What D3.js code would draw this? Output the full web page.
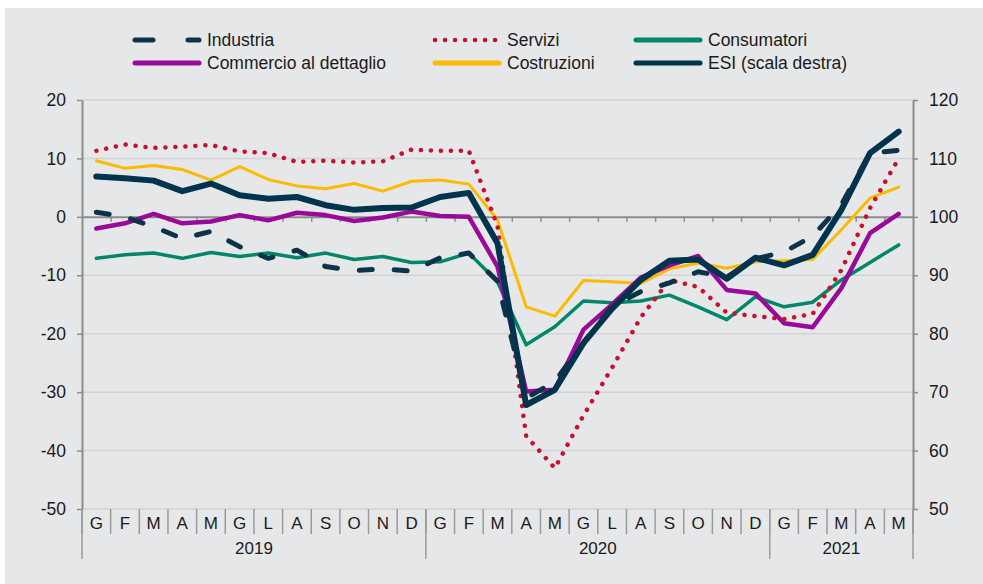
<!DOCTYPE html>
<html>
<head>
<meta charset="utf-8">
<title>Clima di fiducia</title>
<script src="https://cdn.jsdelivr.net/npm/d3@7/dist/d3.min.js"></script>
<style>
	body { margin: 0; background: #fff; }
	svg { display: block; font-family: "Liberation Sans", Arial, sans-serif; }
</style>
</head>
<body>
<div id="chart"></div>
<script>
	// dati (gen 2019 - mag 2021)
	const mesi = ["G","F","M","A","M","G","L","A","S","O","N","D",
		"G","F","M","A","M","G","L","A","S","O","N","D",
		"G","F","M","A","M"];
	const anni = ["2019", "2020", "2021"];
	const mesiPerAnno = [12, 12, 5];

	const industria = [0.8, 0.0, -1.7, -3.7, -2.5, -5.1, -7.1, -5.7, -8.5, -9.2, -8.9, -9.3,
		-7.0, -6.2, -11.0, -31.0, -28.2, -21.5, -15.3, -12.8, -11.3, -9.4, -10.3, -7.2,
		-6.0, -3.3, 2.1, 10.9, 11.4];
	const servizi = [11.3, 12.4, 11.8, 12.0, 12.3, 11.2, 10.9, 9.4, 9.6, 9.3, 9.5, 11.5,
		11.3, 11.3, -1.5, -37.5, -43.0, -34.0, -25.8, -17.2, -10.8, -12.0, -16.4, -17.0,
		-17.5, -16.6, -9.1, 1.5, 10.0];
	const consumatori = [-7.1, -6.5, -6.2, -7.1, -6.1, -6.8, -6.2, -7.0, -6.2, -7.3, -6.8, -7.8,
		-7.7, -6.2, -11.1, -21.9, -18.8, -14.4, -14.7, -14.4, -13.4, -15.4, -17.6, -13.7,
		-15.4, -14.6, -10.8, -7.8, -4.8];
	const commercio = [-2.0, -1.1, 0.5, -1.1, -0.8, 0.3, -0.6, 0.7, 0.3, -0.7, -0.1, 0.9,
		0.15, 0.0, -8.5, -29.9, -29.6, -19.3, -15.0, -10.4, -8.3, -6.7, -12.5, -13.1,
		-18.2, -18.9, -12.2, -2.8, 0.5];
	const costruzioni = [9.6, 8.3, 8.8, 8.1, 6.3, 8.6, 6.4, 5.3, 4.8, 5.7, 4.4, 6.1,
		6.3, 5.6, -0.5, -15.4, -17.0, -10.9, -11.1, -11.4, -8.9, -7.9, -8.8, -7.7,
		-7.5, -7.3, -2.2, 3.2, 5.1];
	const esi = [106.9, 106.6, 106.2, 104.4, 105.7, 103.7, 103.1, 103.4, 102.0, 101.2, 101.5, 101.6,
		103.4, 104.1, 95.5, 67.8, 70.4, 78.4, 84.3, 89.2, 92.5, 92.7, 89.4, 93.0,
		91.7, 93.5, 101.2, 110.9, 114.6];

	const ticksSx = [-50, -40, -30, -20, -10, 0, 10, 20];
	const ticksDx = [50, 60, 70, 80, 90, 100, 110, 120];

	const W = 983, H = 584;
	const mSx = 82, mDx = 913, mAlto = 100, mBasso = 509;
	const grigio = "#8c8c8c";

	const svg = d3.select("#chart").append("svg").attr("width", W).attr("height", H);
	svg.append("rect").attr("x", 5).attr("y", 8).attr("width", W - 5).attr("height", H - 8).attr("fill", "#e6e7e8");

	const x = d3.scaleBand().domain(d3.range(mesi.length)).range([mSx, mDx]);
	const xb = d3.scaleLinear().domain([0, mesi.length]).range([mSx, mDx]); // bordi dei mesi
	const yL = d3.scaleLinear().domain([-50, 20]).range([mBasso, mAlto]);
	const yR = d3.scaleLinear().domain([50, 120]).range([mBasso, mAlto]);
	const cx = i => x(i) + x.bandwidth() / 2;

	// griglia
	svg.append("g").selectAll("line").data(ticksSx.filter(d => d !== 0)).join("line")
		.attr("x1", mSx).attr("x2", mDx)
		.attr("y1", d => yL(d)).attr("y2", d => yL(d))
		.attr("stroke", "#d2d3d5").attr("stroke-width", 1.5);

	// asse dello zero con tacche ai confini dei mesi
	const gZero = svg.append("g").attr("transform", "translate(0," + yL(0) + ")")
		.call(d3.axisBottom(xb).tickValues(d3.range(1, mesi.length)).tickFormat("").tickSizeInner(5).tickSizeOuter(0));
	gZero.select(".domain").attr("stroke", grigio).attr("stroke-width", 2);
	gZero.selectAll(".tick line").attr("stroke", grigio).attr("stroke-width", 1.5);

	// assi verticali (trattino semplice per il segno meno, come nell'originale)
	function stileAsse(g) {
		g.select(".domain").attr("stroke", grigio).attr("stroke-width", 2);
		g.selectAll(".tick line").attr("stroke", grigio).attr("stroke-width", 1.5);
		g.selectAll(".tick text").attr("fill", "#1a1a1a").attr("font-size", 17.5)
			.attr("font-family", "Liberation Sans, Arial, sans-serif");
	}
	svg.append("g").attr("transform", "translate(" + mSx + ",0)")
		.call(d3.axisLeft(yL).tickValues(ticksSx).tickFormat(d => String(d)).tickSizeInner(5).tickSizeOuter(0).tickPadding(11))
		.call(stileAsse);
	svg.append("g").attr("transform", "translate(" + mDx + ",0)")
		.call(d3.axisRight(yR).tickValues(ticksDx).tickFormat(d => String(d)).tickSizeInner(5).tickSizeOuter(0).tickPadding(11))
		.call(stileAsse);

	// asse delle categorie in basso
	const gCat = svg.append("g");
	gCat.selectAll("line.sep").data(d3.range(0, mesi.length + 1)).join("line")
		.attr("class", "sep")
		.attr("x1", d => xb(d)).attr("x2", d => xb(d))
		.attr("y1", mBasso).attr("y2", mBasso + 25)
		.attr("stroke", "#9a9a9a").attr("stroke-width", 1.5);
	const inizioAnno = [0, 12, 24, 29];
	gCat.selectAll("line.anno").data(inizioAnno).join("line")
		.attr("class", "anno")
		.attr("x1", d => xb(d)).attr("x2", d => xb(d))
		.attr("y1", mBasso).attr("y2", mBasso + 50)
		.attr("stroke", "#9a9a9a").attr("stroke-width", 1.5);
	gCat.selectAll("text.mese").data(mesi).join("text")
		.attr("class", "mese")
		.attr("x", (d, i) => cx(i)).attr("y", mBasso + 20)
		.attr("text-anchor", "middle").attr("font-size", 17).attr("fill", "#1a1a1a")
		.text(d => d);
	gCat.selectAll("text.anno").data(anni).join("text")
		.attr("class", "anno")
		.attr("x", (d, i) => (xb(inizioAnno[i]) + xb(inizioAnno[i] + mesiPerAnno[i])) / 2)
		.attr("y", mBasso + 45)
		.attr("text-anchor", "middle").attr("font-size", 17).attr("fill", "#1a1a1a")
		.text(d => d);

	// serie
	const serie = [
		{ nome: "Costruzioni", dati: costruzioni, y: yL, col: "#fbbb00", w: 3, dash: null },
		{ nome: "Consumatori", dati: consumatori, y: yL, col: "#00876a", w: 3.5, dash: null },
		{ nome: "Commercio al dettaglio", dati: commercio, y: yL, col: "#990a99", w: 4.5, dash: null },
		{ nome: "Servizi", dati: servizi, y: yL, col: "#c8102e", w: 4.5, dash: "0.1 9.9" },
		{ nome: "ESI (scala destra)", dati: esi, y: yR, col: "#00334e", w: 6, dash: null },
		{ nome: "Industria", dati: industria, y: yL, col: "#0d3349", w: 5, dash: "13 22" }
	];
	const linea = s => d3.line().x((d, i) => cx(i)).y(d => s.y(d))(s.dati);
	svg.append("g").selectAll("path").data(serie).join("path")
		.attr("d", linea)
		.attr("fill", "none")
		.attr("stroke", s => s.col)
		.attr("stroke-width", s => s.w)
		.attr("stroke-dasharray", s => s.dash)
		.attr("stroke-linecap", "round")
		.attr("stroke-linejoin", "round");

	// legenda
	const legenda = [
		{ s: "Industria", x: 133, y: 40 },
		{ s: "Servizi", x: 433, y: 40 },
		{ s: "Consumatori", x: 634, y: 40 },
		{ s: "Commercio al dettaglio", x: 133, y: 63 },
		{ s: "Costruzioni", x: 433, y: 63 },
		{ s: "ESI (scala destra)", x: 634, y: 63 }
	];
	const gLeg = svg.append("g");
	legenda.forEach(l => {
		const s = serie.find(d => d.nome === l.s);
		gLeg.append("line")
			.attr("x1", l.x + 2).attr("x2", l.x + 66)
			.attr("y1", l.y).attr("y2", l.y)
			.attr("stroke", s.col).attr("stroke-width", s.dash === "0.1 9.9" ? 4.5 : 5)
			.attr("stroke-dasharray", s.dash === "13 22" ? "18 35" : s.dash)
			.attr("stroke-linecap", "round");
		gLeg.append("text")
			.attr("x", l.x + 74).attr("y", l.y + 6)
			.attr("font-size", 17.5).attr("fill", "#1a1a1a")
			.text(l.s);
	});
</script>
</body>
</html>
